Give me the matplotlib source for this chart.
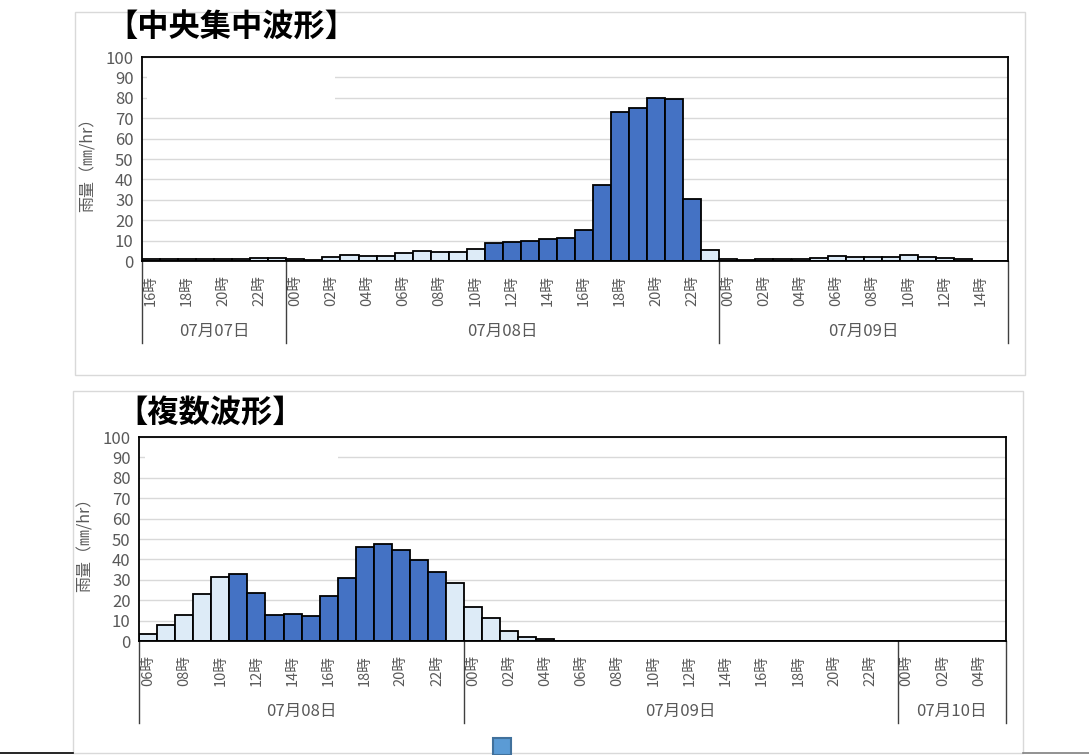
import matplotlib
matplotlib.use('Agg')
import matplotlib.pyplot as plt
from matplotlib.patches import Rectangle
from matplotlib.lines import Line2D

plt.rcParams['font.family'] = ['Noto Sans CJK JP', 'DejaVu Sans']

# 中央集中波形: 07/07 16時 - 07/09 15時
top_days = ['07月07日', '07月08日', '07月09日']
top_day_hours = [8, 24, 16]
top_first_hour = 16
top_rain = [
    1.0, 1.0, 1.0, 1.0, 1.0, 1.0, 1.6, 1.6,
    1.0, 0.7, 2.0, 3.0, 2.5, 2.5, 3.9, 5.1, 4.3, 4.6, 6.1, 8.7,
    9.5, 10.0, 11.0, 11.5, 15.4, 37.5, 73.0, 75.0, 80.0, 79.2, 30.6, 5.6,
    1.2, 0.7, 1.2, 1.0, 1.0, 1.7, 2.3, 2.2, 1.8, 2.2, 2.8, 2.0, 1.7, 1.2, 0.0, 0.0,
]

# 複数波形: 07/08 06時 - 07/10 05時
bot_days = ['07月08日', '07月09日', '07月10日']
bot_day_hours = [18, 24, 6]
bot_first_hour = 6
bot_rain = [
    3.6, 7.7, 12.8, 22.8, 31.3, 32.8, 23.3, 12.8, 13.1, 12.5, 22.3, 30.8,
    45.9, 47.7, 44.6, 39.7, 33.9, 28.2,
    16.7, 11.3, 5.1, 2.0, 1.0, 0.0, 0.0, 0.0, 0.0, 0.0, 0.0, 0.0, 0.0, 0.0,
    0.0, 0.0, 0.0, 0.0, 0.0, 0.0, 0.0, 0.0, 0.0, 0.0,
    0.0, 0.0, 0.0, 0.0, 0.0, 0.0,
]

# 集中時間帯 (濃い色で表示)
peak_day = '07月08日'
peak_hours = (11, 22)

DARK = '#4472C4'
LIGHT = '#DDEBF7'
GRAY_TXT = '#595959'
W, H = 1089, 755


def expand(days, day_hours, first_hour):
    day_of, hour_of = [], []
    h = first_hour
    for d, n in zip(days, day_hours):
        for _ in range(n):
            day_of.append(d)
            hour_of.append(h % 24)
            h += 1
    return day_of, hour_of


def draw_chart(fig, box, days, day_hours, first_hour, rain, mask):
    ax = fig.add_axes(box)
    day_of, hour_of = expand(days, day_hours, first_hour)
    n = len(rain)
    xs = list(range(n))
    colors = [DARK if (d == peak_day and peak_hours[0] <= h <= peak_hours[1]) else LIGHT
              for d, h in zip(day_of, hour_of)]
    ax.bar(xs, rain, width=1.0, color=colors, edgecolor='black', linewidth=1.3, zorder=2)

    ax.set_xlim(-0.5, n - 0.5)
    ax.set_ylim(0, 100)
    ax.set_yticks(range(0, 101, 10))
    ax.set_axisbelow(True)
    ax.yaxis.grid(True, color='#D9D9D9', linewidth=1.0)
    for s in ax.spines.values():
        s.set_color('black')
        s.set_linewidth(1.3)
    ax.tick_params(axis='y', length=0, pad=6, labelsize=12, labelcolor=GRAY_TXT)

    ticks = [i for i in xs if hour_of[i] % 2 == 0]
    ax.set_xticks(ticks)
    ax.set_xticklabels([f'{hour_of[i]:02d}時' for i in ticks], rotation=90,
                       fontsize=10.5, color=GRAY_TXT)
    ax.tick_params(axis='x', length=0, pad=10)

    # white box hiding part of the gridlines (as in the source sheet)
    ax.add_patch(Rectangle((mask[0], mask[1]), mask[2], mask[3], transform=ax.transAxes,
                           facecolor='white', edgecolor='none', zorder=1))

    # day group separators and labels
    bounds = [-0.5]
    for k in day_hours:
        bounds.append(bounds[-1] + k)
    tr = ax.get_xaxis_transform()
    for b in bounds:
        ax.add_line(Line2D([b, b], [0, -0.4], transform=tr, color='#404040',
                           linewidth=1.0, clip_on=False))
    for d, a, b in zip(days, bounds[:-1], bounds[1:]):
        ax.text((a + b) / 2, -0.345, d, transform=tr, ha='center', va='center',
                fontsize=12, color=GRAY_TXT)

    ax.text(-0.062, 0.49, '雨量（㎜/hr）', transform=ax.transAxes, rotation=90,
            ha='center', va='center', fontsize=11.5, color=GRAY_TXT)
    return ax


fig = plt.figure(figsize=(W / 100, H / 100), dpi=100)

# panel frames
fig.patches.append(Rectangle((75 / W, 1 - 375 / H), 950 / W, 363 / H, transform=fig.transFigure,
                             facecolor='none', edgecolor='#D9D9D9', linewidth=1.0))
fig.patches.append(Rectangle((73 / W, 1 - 753 / H), 950 / W, 362 / H, transform=fig.transFigure,
                             facecolor='none', edgecolor='#D9D9D9', linewidth=1.0))

draw_chart(fig, [142 / W, 1 - 261 / H, 866 / W, 204 / H],
           top_days, top_day_hours, top_first_hour, top_rain,
           (0.006, 0.75, 0.217, 0.2))
draw_chart(fig, [139 / W, 1 - 641 / H, 867 / W, 204 / H],
           bot_days, bot_day_hours, bot_first_hour, bot_rain,
           (0.007, 0.86, 0.222, 0.08))

fig.text(106 / W, 1 - 28 / H, '【中央集中波形】', ha='left', va='center',
         fontsize=22.5, fontweight='bold', color='black')
fig.text(116 / W, 1 - 413 / H, '【複数波形】', ha='left', va='center',
         fontsize=22.5, fontweight='bold', color='black')

# sheet edge and selected shape at the bottom
fig.add_artist(Line2D([0, 73 / W], [1 - 753 / H] * 2, transform=fig.transFigure,
                      color='black', linewidth=1.2))
fig.add_artist(Line2D([1023 / W, 1], [1 - 753 / H] * 2, transform=fig.transFigure,
                      color='#7F7F7F', linewidth=1.2))
fig.patches.append(Rectangle((493 / W, 0), 18 / W, 17 / H, transform=fig.transFigure,
                             facecolor='#5B9BD5', edgecolor='#41719C', linewidth=1.5))

fig.savefig('out.png', dpi=100)
